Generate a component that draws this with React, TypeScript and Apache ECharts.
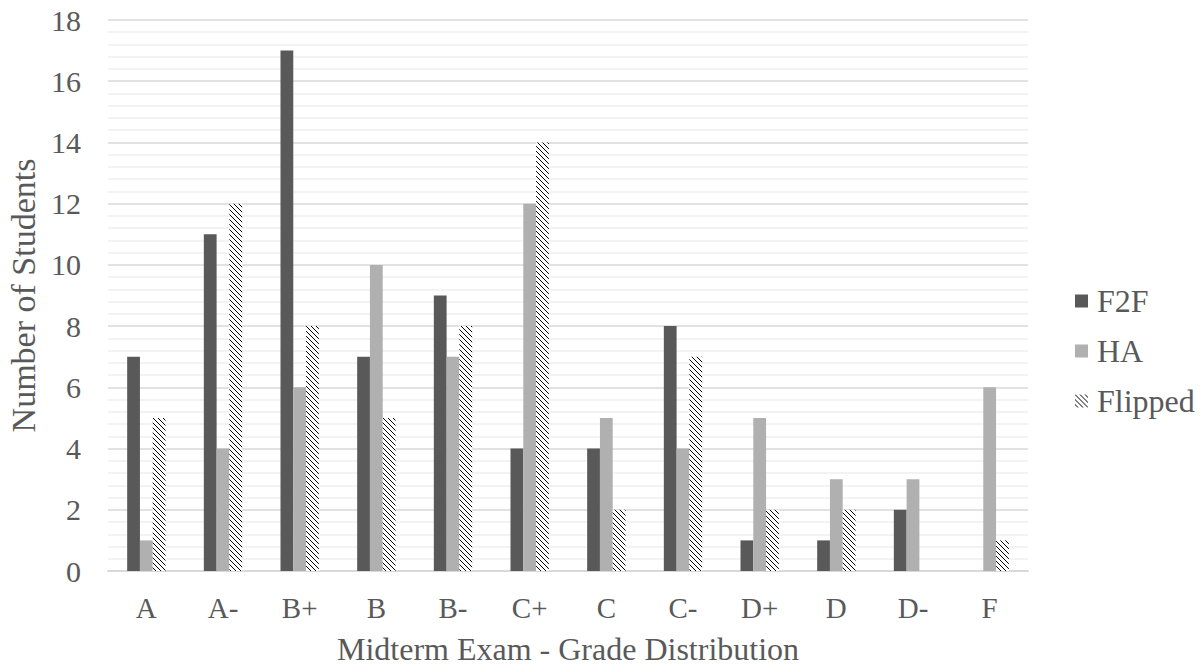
import React, { useEffect, useRef } from "react";
import * as echarts from "echarts";

const categories = ["A", "A-", "B+", "B", "B-", "C+", "C", "C-", "D+", "D", "D-", "F"];
const f2fValues = [7, 11, 17, 7, 9, 4, 4, 8, 1, 1, 2, 0];
const haValues = [1, 4, 6, 10, 7, 12, 5, 4, 5, 3, 3, 6];
const flippedValues = [5, 12, 8, 5, 8, 14, 2, 7, 2, 2, 0, 1];
const seriesNames = ["F2F", "HA", "Flipped"];

const FONT = "Liberation Serif";
const TEXT = "#595959";

function makeHatch(): HTMLCanvasElement {
  const c = document.createElement("canvas");
  c.width = 5;
  c.height = 5;
  const ctx = c.getContext("2d")!;
  ctx.fillStyle = "#ffffff";
  ctx.fillRect(0, 0, 5, 5);
  ctx.fillStyle = "#000000";
  for (let i = 0; i < 5; i++) {
    ctx.fillRect(i, i, 1, 1);
  }
  return c;
}

export default function App() {
  const ref = useRef<HTMLDivElement>(null);
  useEffect(() => {
    if (!ref.current) return;
    const chart = echarts.init(ref.current, undefined, { renderer: "svg" });
    const hatch = { image: makeHatch(), repeat: "repeat" } as any;
    chart.setOption({
      animation: false,
      backgroundColor: "#ffffff",
      textStyle: { fontFamily: FONT, color: TEXT },
      grid: { left: 108, right: 172, top: 20, bottom: 96, outerBoundsMode: "none", containLabel: false },
      legend: {
        orient: "vertical",
        left: 1070,
        top: 280,
        itemWidth: 13,
        itemHeight: 13,
        itemGap: 18,
        icon: "rect",
        data: seriesNames,
        textStyle: { fontFamily: FONT, color: TEXT, fontSize: 32, lineHeight: 32, padding: [0, 0, 0, 4] },
      },
      xAxis: {
        type: "category",
        data: categories,
        name: "Midterm Exam - Grade Distribution",
        nameLocation: "middle",
        nameGap: 62,
        nameTextStyle: { fontFamily: FONT, color: TEXT, fontSize: 32 },
        axisLine: { lineStyle: { color: "#d9d9d9", width: 2 } },
        axisTick: { show: false },
        axisLabel: { fontFamily: FONT, color: TEXT, fontSize: 29, margin: 22 },
      },
      yAxis: {
        type: "value",
        min: 0,
        max: 18,
        interval: 2,
        name: "Number of Students",
        nameLocation: "middle",
        nameGap: 68,
        nameTextStyle: { fontFamily: FONT, color: TEXT, fontSize: 34 },
        axisLine: { show: false },
        axisTick: { show: false },
        axisLabel: { fontFamily: FONT, color: TEXT, fontSize: 30, margin: 27 },
        splitLine: { lineStyle: { color: "#d9d9d9", width: 1.5 } },
        minorTick: { show: false, splitNumber: 5 },
        minorSplitLine: { show: true, lineStyle: { color: "#efefef", width: 1.5 } },
      },
      series: [
        {
          name: seriesNames[0],
          type: "bar",
          data: f2fValues,
          barGap: "0%",
          barCategoryGap: "50%",
          itemStyle: { color: "#595959" },
        },
        {
          name: seriesNames[1],
          type: "bar",
          data: haValues,
          barGap: "0%",
          barCategoryGap: "50%",
          itemStyle: { color: "#b0b0b0" },
        },
        {
          name: seriesNames[2],
          type: "bar",
          data: flippedValues,
          barGap: "0%",
          barCategoryGap: "50%",
          itemStyle: { color: hatch },
        },
      ],
    });
    return () => chart.dispose();
  }, []);
  return (
    <div
      ref={ref}
      style={{ position: "fixed", left: 0, top: 0, width: 1200, height: 667, background: "#fff" }}
    />
  );
}
